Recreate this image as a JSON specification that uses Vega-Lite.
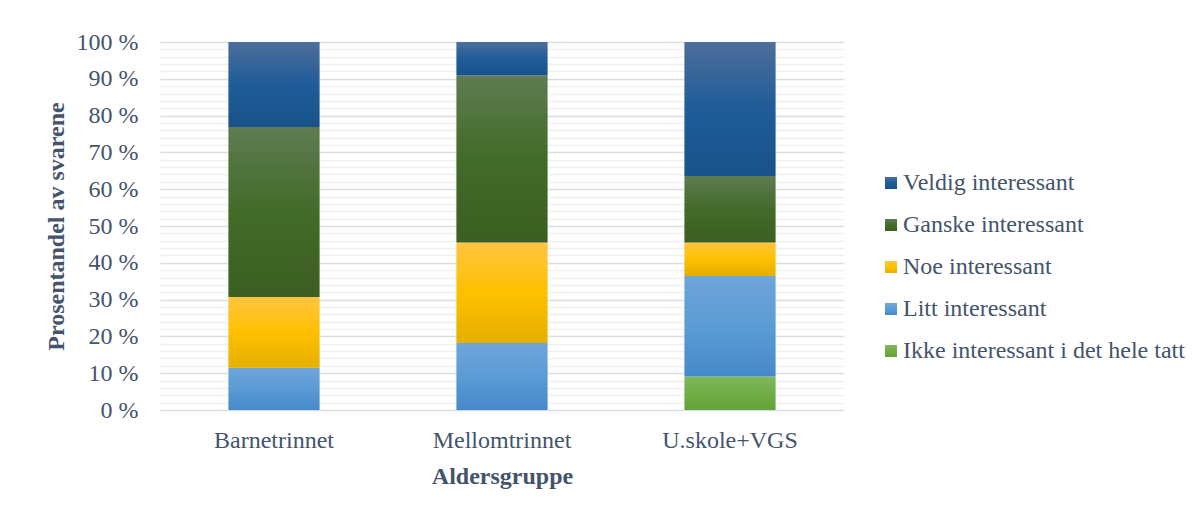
{
  "$schema": "https://vega.github.io/schema/vega-lite/v6.json",
  "width": 684,
  "height": 368,
  "autosize": {"type": "none"},
  "padding": {"left": 160, "top": 42, "right": 356, "bottom": 101},
  "background": "white",
  "config": {
    "font": "Liberation Serif",
    "view": {"stroke": null},
    "axis": {
      "labelFont": "Liberation Serif",
      "titleFont": "Liberation Serif",
      "labelColor": "#44546A",
      "titleColor": "#44546A",
      "labelFontSize": 24,
      "titleFontSize": 24,
      "titleFontWeight": "bold"
    },
    "legend": {
      "labelFont": "Liberation Serif",
      "labelColor": "#44546A",
      "labelFontSize": 24
    }
  },
  "data": {
    "values": [
      {"gruppe": "Barnetrinnet", "kategori": "Litt interessant", "prosent": 11.5},
      {"gruppe": "Barnetrinnet", "kategori": "Noe interessant", "prosent": 19.2},
      {"gruppe": "Barnetrinnet", "kategori": "Ganske interessant", "prosent": 46.2},
      {"gruppe": "Barnetrinnet", "kategori": "Veldig interessant", "prosent": 23.1},
      {"gruppe": "Mellomtrinnet", "kategori": "Litt interessant", "prosent": 18.2},
      {"gruppe": "Mellomtrinnet", "kategori": "Noe interessant", "prosent": 27.3},
      {"gruppe": "Mellomtrinnet", "kategori": "Ganske interessant", "prosent": 45.4},
      {"gruppe": "Mellomtrinnet", "kategori": "Veldig interessant", "prosent": 9.1},
      {"gruppe": "U.skole+VGS", "kategori": "Ikke interessant i det hele tatt", "prosent": 9.1},
      {"gruppe": "U.skole+VGS", "kategori": "Litt interessant", "prosent": 27.3},
      {"gruppe": "U.skole+VGS", "kategori": "Noe interessant", "prosent": 9.1},
      {"gruppe": "U.skole+VGS", "kategori": "Ganske interessant", "prosent": 18.1},
      {"gruppe": "U.skole+VGS", "kategori": "Veldig interessant", "prosent": 36.4}
    ]
  },
  "transform": [
    {"calculate": "indexof(['Ikke interessant i det hele tatt','Litt interessant','Noe interessant','Ganske interessant','Veldig interessant'], datum.kategori)", "as": "rekkefolge"}
  ],
  "mark": {"type": "bar", "strokeWidth": 0},
  "encoding": {
    "x": {
      "field": "gruppe",
      "type": "nominal",
      "sort": ["Barnetrinnet", "Mellomtrinnet", "U.skole+VGS"],
      "scale": {"paddingInner": 0.6, "paddingOuter": 0.3},
      "axis": {
        "title": "Aldersgruppe",
        "labelAngle": 0,
        "ticks": false,
        "tickSize": 0,
        "domain": false,
        "labelPadding": 18,
        "titlePadding": 12
      }
    },
    "y": {
      "field": "prosent",
      "type": "quantitative",
      "stack": "zero",
      "scale": {"domain": [0, 100], "nice": false},
      "axis": {
        "title": "Prosentandel av svarene",
        "values": [0,2,4,6,8,10,12,14,16,18,20,22,24,26,28,30,32,34,36,38,40,42,44,46,48,50,52,54,56,58,60,62,64,66,68,70,72,74,76,78,80,82,84,86,88,90,92,94,96,98,100],
        "labelExpr": "datum.value % 10 === 0 ? datum.value + ' %' : ''",
        "ticks": false,
        "tickSize": 0,
        "domain": false,
        "labelPadding": 22,
        "titlePadding": 8,
        "grid": true,
        "gridColor": {"condition": {"test": "datum.value % 10 === 0", "value": "#D9DEE6"}, "value": "#F0F0F0"},
        "gridWidth": 1.5
      }
    },
    "order": {"field": "rekkefolge", "type": "quantitative"},
    "color": {
      "field": "kategori",
      "type": "nominal",
      "scale": {
        "domain": ["Veldig interessant", "Ganske interessant", "Noe interessant", "Litt interessant", "Ikke interessant i det hele tatt"],
        "range": [
          {"expr": "{gradient:'linear',x1:0,y1:0,x2:0,y2:1,stops:[{offset:0,color:'#4E6E9B'},{offset:0.5,color:'#1F5C99'},{offset:1,color:'#18528A'}]}"},
          {"expr": "{gradient:'linear',x1:0,y1:0,x2:0,y2:1,stops:[{offset:0,color:'#5F7C52'},{offset:0.5,color:'#426B28'},{offset:1,color:'#3C5E22'}]}"},
          {"expr": "{gradient:'linear',x1:0,y1:0,x2:0,y2:1,stops:[{offset:0,color:'#FFC53F'},{offset:0.5,color:'#FFC000'},{offset:1,color:'#E4AF00'}]}"},
          {"expr": "{gradient:'linear',x1:0,y1:0,x2:0,y2:1,stops:[{offset:0,color:'#6FA5DA'},{offset:0.5,color:'#5B9BD5'},{offset:1,color:'#4589CA'}]}"},
          {"expr": "{gradient:'linear',x1:0,y1:0,x2:0,y2:1,stops:[{offset:0,color:'#80B85C'},{offset:0.5,color:'#70AD47'},{offset:1,color:'#63A338'}]}"}
        ]
      },
      "legend": {
        "title": null,
        "orient": "none",
        "legendX": 719,
        "legendY": 129,
        "padding": 0,
        "symbolType": "square",
        "symbolSize": 144,
        "symbolStrokeWidth": 0,
        "rowPadding": 18,
        "labelOffset": 0,
        "labelLimit": 400
      }
    }
  }
}
